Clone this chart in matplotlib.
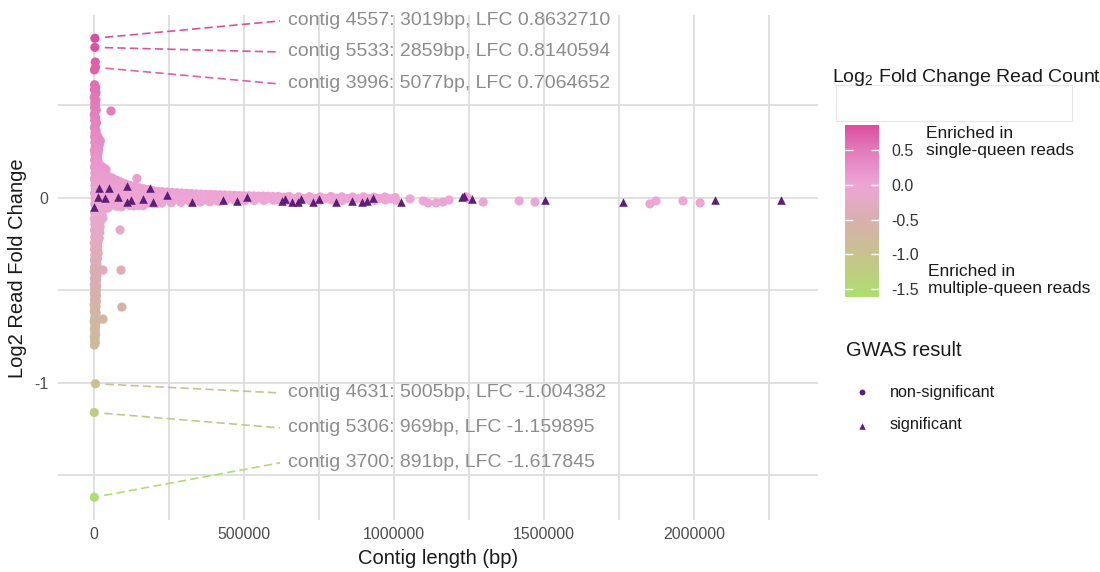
import numpy as np
import matplotlib
matplotlib.use("Agg")
import matplotlib.pyplot as plt
from matplotlib.colors import LinearSegmentedColormap, Normalize
from matplotlib.cm import ScalarMappable
from matplotlib.patches import Rectangle

plt.rcParams['font.family'] = ['Liberation Sans', 'DejaVu Sans']
plt.rcParams['mathtext.fontset'] = 'custom'
plt.rcParams['mathtext.rm'] = 'Liberation Sans'
plt.rcParams['mathtext.it'] = 'Liberation Sans:italic'

# ---------------------------------------------------------
# contigs: (length in bp, log2 fold change of read count)
# ---------------------------------------------------------

# short contigs piled up near zero length
column_pts = [
    (4200, 0.735), (1500, 0.692),
    (2100, 0.612), (5300, 0.598), (1200, 0.585), (6800, 0.571), (3400, 0.556),
    (800, 0.543), (6100, 0.529), (2600, 0.515), (4800, 0.502), (1700, 0.488),
    (7400, 0.474), (3100, 0.461), (900, 0.447), (5600, 0.433), (2300, 0.420),
    (8200, 0.406), (4100, 0.392), (1300, 0.379), (6500, 0.365), (3600, 0.351),
    (10500, 0.338), (1900, 0.331), (14800, 0.322), (6200, 0.316), (21000, 0.309),
    (2800, 0.301), (11800, 0.294), (17500, 0.286), (4500, 0.279), (9200, 0.271),
    (15600, 0.263), (1100, 0.257), (7700, 0.249), (13400, 0.242), (3300, 0.235),
    (10100, 0.227), (5800, 0.219), (12600, 0.212), (2000, 0.205),
    (8800, 0.198), (14200, 0.191), (4700, 0.184), (19800, 0.176), (26500, 0.169),
    (1600, 0.166), (33800, 0.161), (11300, 0.158), (40200, 0.153), (22700, 0.149),
    (6100, 0.146), (15900, 0.141), (30400, 0.137), (2900, 0.134),
    (9400, 0.127), (24100, 0.122), (37600, 0.118), (4200, 0.114), (16800, 0.110),
    (29300, 0.104), (1400, 0.101), (11900, 0.096), (35200, 0.092), (20400, 0.088),
    (6600, 0.083), (27800, 0.079), (14500, 0.074), (38900, 0.070), (3100, 0.066),
    (22300, 0.061), (9900, 0.057), (32600, 0.052), (17100, 0.048), (5200, 0.043),
    (25900, 0.039), (12800, 0.034), (36400, 0.030), (1900, 0.025), (19300, 0.021),
    (8300, 0.016), (30100, 0.012), (14000, 0.007), (24600, 0.003), (3800, -0.002),
    (33700, -0.006), (10700, -0.011), (21500, -0.015), (6900, -0.020), (28400, -0.024),
    (16300, -0.029), (2400, -0.033), (35900, -0.038), (12200, -0.042), (23800, -0.047),
    (7500, -0.051), (18600, -0.056), (31200, -0.060), (4600, -0.065), (13900, -0.069),
    (9800, -0.074), (1700, -0.079), (20800, -0.083),
    (26700, -0.092), (5600, -0.097), (15400, -0.103), (29800, -0.109), (1000, -0.114),
    (11100, -0.120), (22400, -0.126), (7300, -0.131), (18200, -0.137), (2900, -0.143),
    (13600, -0.149), (20500, -0.156), (6300, -0.162), (16900, -0.168), (1500, -0.174),
    (10400, -0.181), (19100, -0.187), (4800, -0.193), (14700, -0.199), (8600, -0.206),
    (2300, -0.212), (17600, -0.218), (11900, -0.224), (5400, -0.231), (13300, -0.238),
    (900, -0.244), (9500, -0.251), (3700, -0.258), (12700, -0.265), (7200, -0.272),
    (1800, -0.279), (10900, -0.286), (5900, -0.293), (13800, -0.300), (2700, -0.307),
    (8900, -0.314), (4400, -0.321), (11600, -0.329), (1200, -0.336), (7800, -0.343),
    (3900, -0.351), (10200, -0.358), (6100, -0.366), (2000, -0.373), (9300, -0.381),
    (4900, -0.389), (800, -0.397), (7100, -0.404), (3200, -0.412), (9900, -0.420),
    (5600, -0.428), (1600, -0.436), (8400, -0.444), (3800, -0.452), (6700, -0.460),
    (1100, -0.468), (9100, -0.476), (4600, -0.484), (2400, -0.492), (7500, -0.500),
    (5200, -0.509), (900, -0.517), (8100, -0.526), (3500, -0.534), (6300, -0.543),
    (1900, -0.551), (7900, -0.560), (4300, -0.568), (700, -0.577), (6800, -0.586),
    (2900, -0.595), (5400, -0.604), (1300, -0.613), (7200, -0.622), (3700, -0.631),
    (5900, -0.641), (2200, -0.650), (4800, -0.660), (800, -0.669), (6400, -0.679),
    (3100, -0.689), (5000, -0.699), (1600, -0.709), (4100, -0.719), (2600, -0.729),
    (5500, -0.740), (1000, -0.750), (3600, -0.761), (2000, -0.772), (4500, -0.783),
    (1400, -0.795),
]

# scattered contigs away from the main cloud
outlier_pts = [
    (56700, 0.470), (143000, 0.105), (87000, -0.173), (30000, -0.390),
    (90000, -0.390), (93000, -0.590), (30000, -0.655),
]

# long contigs forming the band around zero
band_pts = [
    (45000, 0.118), (47000, 0.082), (44000, 0.046), (48000, 0.010), (43000, -0.026), (46000, -0.055),
    (60000, 0.108), (58000, 0.071), (62000, 0.035), (59000, -0.001), (61000, -0.037),
    (75000, 0.097), (73000, 0.060), (77000, 0.024), (74000, -0.012), (76000, -0.045),
    (90000, 0.086), (88000, 0.050), (92000, 0.014), (89000, -0.022), (91000, -0.048),
    (105000, 0.076), (103000, 0.040), (107000, 0.004), (104000, -0.032),
    (120000, 0.068), (118000, 0.032), (122000, -0.004), (119000, -0.040),
    (135000, 0.061), (133000, 0.025), (137000, -0.011), (134000, -0.043),
    (150000, 0.055), (148000, 0.019), (152000, -0.017), (149000, -0.040),
    (165000, 0.050), (163000, 0.014), (167000, -0.022), (164000, -0.042),
    (180000, 0.045), (178000, 0.009), (182000, -0.027),
    (195000, 0.041), (193000, 0.005), (197000, -0.031),
    (212000, 0.036), (214000, -0.004), (210000, -0.030),
    (228000, 0.034), (230000, 0.000), (226000, -0.028),
    (244000, 0.032), (246000, -0.006),
    (260000, 0.030), (262000, 0.002), (258000, -0.026),
    (276000, 0.028), (278000, -0.008),
    (292000, 0.027), (294000, 0.003), (290000, -0.024),
    (308000, 0.025), (310000, -0.010),
    (324000, 0.024), (326000, 0.001), (322000, -0.023),
    (340000, 0.022), (342000, -0.012),
    (356000, 0.021), (358000, 0.004), (354000, -0.022),
    (372000, 0.020), (374000, -0.011),
    (388000, 0.019), (390000, 0.000), (386000, -0.021),
    (404000, 0.018), (406000, -0.012),
    (420000, 0.017), (422000, 0.003), (418000, -0.020),
    (436000, 0.016), (438000, -0.013),
    (452000, 0.015), (454000, 0.000), (468000, 0.014), (470000, -0.014),
    (484000, 0.013), (486000, 0.001), (500000, 0.012), (502000, -0.015),
    (516000, 0.012), (518000, 0.002), (532000, 0.011), (534000, -0.014),
    (548000, 0.010), (550000, 0.000), (564000, 0.010), (566000, -0.013),
    (580000, 0.009), (582000, -0.002), (596000, 0.008), (598000, -0.012),
    (614000, 0.008), (616000, -0.010), (632000, 0.004), (648000, -0.012),
    (650000, 0.008), (666000, -0.004), (682000, 0.006), (684000, -0.014),
    (700000, -0.002), (718000, 0.007), (720000, -0.013), (736000, -0.003),
    (754000, 0.006), (756000, -0.012), (772000, -0.002), (790000, 0.008),
    (792000, -0.011), (808000, -0.001), (826000, 0.006), (828000, -0.013),
    (844000, -0.003), (862000, 0.005), (864000, -0.012), (880000, -0.004),
    (898000, 0.006), (900000, -0.012), (916000, -0.002), (934000, 0.004),
    (936000, -0.013), (952000, -0.003), (970000, 0.005), (972000, -0.011),
    (988000, -0.004), (1004000, 0.002), (1006000, -0.012),
    (1053000, -0.005), (1097000, -0.016), (1113000, -0.027), (1140000, -0.027),
    (1163000, -0.022), (1183000, -0.011), (1240000, 0.006), (1250000, -0.005),
    (1297000, -0.022), (1417000, -0.016), (1470000, -0.022), (1853000, -0.032),
    (1873000, -0.016), (1963000, -0.016), (2020000, -0.027),
]

# GWAS-significant contigs
sig_pts = [
    (500, -0.049), (13000, 0.005), (16700, 0.054), (37000, 0.000), (50000, 0.054),
    (80000, 0.005), (110000, 0.065), (110000, -0.022), (123000, -0.011),
    (163000, -0.005), (187000, 0.054), (197000, -0.022), (243000, 0.016),
    (327000, -0.022), (430000, -0.011), (477000, -0.016), (510000, 0.005),
    (627000, -0.016), (637000, -0.005), (660000, -0.022), (680000, -0.022),
    (690000, -0.005), (730000, -0.022), (750000, -0.005), (807000, -0.022),
    (860000, -0.016), (893000, -0.022), (910000, -0.016), (930000, 0.000),
    (1023000, -0.022), (1227000, 0.005), (1233000, 0.011), (1260000, -0.005),
    (1503000, -0.011), (1763000, -0.022), (2070000, -0.011), (2290000, -0.011),
]

# contigs with the most extreme fold changes (labelled)
label_ids = ["4557", "5533", "3996", "4631", "5306", "3700"]
label_len = [3019, 2859, 5077, 5005, 969, 891]
label_lfc = [0.8632710, 0.8140594, 0.7064652, -1.004382, -1.159895, -1.617845]

# where the repelled labels ended up
label_text_x = 647000
label_seg_x = 620000
label_text_y = [0.957, 0.789, 0.616, -1.054, -1.243, -1.432]

nonsig = np.array(column_pts + outlier_pts + band_pts)
sig = np.array(sig_pts)

# ---------------------------------------------------------
# colour scale
# ---------------------------------------------------------

vmin, vmax = min(label_lfc), max(label_lfc)
stops = [(vmin, '#aede70'), (-1.0, '#c8c28f'), (-0.5, '#d9afad'),
         (0.0, '#eda6d6'), (0.5, '#e27bbb'), (vmax, '#db4e9d')]
cmap = LinearSegmentedColormap.from_list(
    'lfc', [((v - vmin) / (vmax - vmin), c) for v, c in stops])
norm = Normalize(vmin=vmin, vmax=vmax)

# ---------------------------------------------------------
# figure
# ---------------------------------------------------------

W, H = 1100, 572
fig = plt.figure(figsize=(11, 5.72), dpi=100)
ax = fig.add_axes([58 / W, 1 - 520 / H, 760 / W, 505 / H])

ax.set_xlim(-120000, 2413000)
ax.set_ylim(-1.741, 0.989)

ax.scatter(nonsig[:, 0], nonsig[:, 1], c=nonsig[:, 1], cmap=cmap, norm=norm,
           s=44, linewidths=0, zorder=3)
ax.scatter(label_len, label_lfc, c=label_lfc, cmap=cmap, norm=norm,
           s=44, linewidths=0, zorder=3)
ax.scatter(sig[:, 0], sig[:, 1], marker='^', color='#5b1f78',
           s=38, linewidths=0, zorder=4)

# dashed leader lines + labels
fig.canvas.draw()
for cid, ln, lfc, ty in zip(label_ids, label_len, label_lfc, label_text_y):
    p0 = ax.transData.transform((ln, lfc))
    p1 = ax.transData.transform((label_seg_x, ty))
    d = (p1 - p0) / np.hypot(*(p1 - p0))
    ps = ax.transData.inverted().transform(p0 + d * 10)
    col = cmap(norm(lfc))
    ax.plot([ps[0], label_seg_x], [ps[1], ty], color=col, lw=1.2,
            ls=(0, (5, 2.5)), zorder=2)
    ax.text(label_text_x, ty, f"contig {cid}: {ln}bp, LFC {lfc:#.7g}",
            ha='left', va='center', fontsize=14, color='#8c8c8c', zorder=5)

# axes styling
ax.set_xticks([0, 500000, 1000000, 1500000, 2000000])
ax.set_xticklabels(['0', '500000', '1000000', '1500000', '2000000'])
ax.set_xticks([250000, 750000, 1250000, 1750000, 2250000], minor=True)
ax.set_yticks([-1, 0])
ax.set_yticklabels(['-1', '0'])
ax.set_yticks([-1.5, -0.5, 0.5], minor=True)
ax.tick_params(which='both', length=0)
ax.tick_params(axis='x', labelsize=11.4, labelcolor='#4d4d4d', pad=5)
ax.tick_params(axis='y', labelsize=11.4, labelcolor='#4d4d4d', pad=7)
ax.grid(which='both', color='#e0e0e0', linewidth=1.4)
ax.set_axisbelow(True)
for sp in ax.spines.values():
    sp.set_visible(False)

# ---------------------------------------------------------
# overlay in pixel coordinates for titles and legends
# ---------------------------------------------------------

ov = fig.add_axes([0, 0, 1, 1])
ov.set_xlim(0, W)
ov.set_ylim(H, 0)
ov.axis('off')
ov.patch.set_visible(False)

ov.text(438, 558, 'Contig length (bp)', ha='center', va='center',
        fontsize=14.5, color='#1a1a1a')
ov.text(18, 268, 'Log2 Read Fold Change', ha='center', va='center',
        rotation=90, fontsize=14.5, color='#1a1a1a')

ov.text(832, 77, r'Log$_2$ Fold Change Read Count', ha='left', va='center',
        fontsize=14, color='#1a1a1a')
ov.add_patch(Rectangle((836, 85), 236, 36, facecolor='white',
                       edgecolor='#e6e6e6', linewidth=0.8))

cax = fig.add_axes([845 / W, 1 - 297 / H, 34 / W, 172 / H])
cb = fig.colorbar(ScalarMappable(norm=norm, cmap=cmap), cax=cax,
                  ticks=[0.5, 0.0, -0.5, -1.0, -1.5])
cb.outline.set_visible(False)
cb.ax.set_yticklabels(['0.5', '0.0', '-0.5', '-1.0', '-1.5'])
cax.yaxis.set_ticks_position('both')
cax.tick_params(direction='in', color='white', length=6, width=1,
                labelsize=11.5, labelcolor='#333333', pad=9,
                right=True, left=True, labelleft=False, labelright=True)

ov.text(926, 142, 'Enriched in\nsingle-queen reads', ha='left', va='center',
        fontsize=12.5, color='#1a1a1a', linespacing=1.2)
ov.text(928, 280, 'Enriched in\nmultiple-queen reads', ha='left', va='center',
        fontsize=12.5, color='#1a1a1a', linespacing=1.2)

ov.text(846, 350, 'GWAS result', ha='left', va='center', fontsize=14.5,
        color='#1a1a1a')
ov.scatter([862], [392], marker='o', s=18, color='#5b1f78', linewidths=0)
ov.scatter([862], [426], marker='^', s=22, color='#5b1f78', linewidths=0)
ov.text(890, 392, 'non-significant', ha='left', va='center', fontsize=11.7,
        color='#1a1a1a')
ov.text(890, 425, 'significant', ha='left', va='center', fontsize=11.7,
        color='#1a1a1a')

fig.savefig('out.png', dpi=100, facecolor='white')
